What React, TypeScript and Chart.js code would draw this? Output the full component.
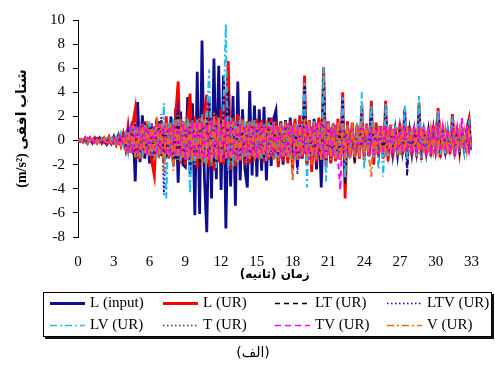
import React, { useEffect, useRef } from 'react';
import { Chart, registerables } from 'chart.js';

Chart.register(...registerables);

// time step of the sampled record (seconds)
const timeStep = 0.2;
const xTickStep = 3;
const yTickStep = 2;

const seriesNames = ['L (input)', 'L (UR)', 'LT (UR)', 'LTV (UR)', 'LV (UR)', 'T (UR)', 'TV (UR)', 'V (UR)'];

const lInput = [
  0, 0.1, -0.1, 0.2, -0.2, 0.1, -0.2, 0.2, -0.1, 0.2,
  -0.2, 0.1, -0.3, 0.2, -0.2, 0.3, -0.3, 0.4, -0.3, 0.5,
  -0.6, 0.9, -1.0, 1.6, -3.4, 3.2, -1.8, 2.1, -1.5, 1.4,
  -1.9, 1.2, -1.6, 1.8, -1.2, 1.5, -1.8, 1.3, -1.4, 2.0,
  -2.1, 2.7, -3.5, 2.4, -2.0, -2.2, 3.6, -2.8, 3.1, -6.2,
  5.7, -6.1, 8.3, -3.0, -7.6, 3.5, -4.8, 6.8, -3.2, 6.2,
  -4.1, 5.4, -7.3, 3.3, -3.8, 3.7, -5.4, 4.9, -3.3, 2.6,
  -2.4, -3.9, 4.1, -2.9, 2.9, -3.0, 2.6, -2.5, 2.8, -3.3,
  1.9, -2.1, 1.8, 2.5, -1.9, 1.6, -2.0, 1.7, -1.6, 1.9,
  -1.8, 1.5, -2.2, 1.7, -1.5, 2.0, -1.9, 1.6, -2.0, 1.8,
  -2.4, 1.7, -3.9, 2.2, -1.6, 1.5, -1.8, 1.3, -1.5, 1.2,
  -1.6, 1.4, -1.2, 1.3, -1.4, 1.1, -1.3, 1.2, -1.1, 1.4,
  -1.2, 1.0, -1.3, 1.1, -1.0, 1.2, -1.1, 0.9, -1.2, 1.0,
  -0.9, 1.1, -1.0, 0.8, -1.1, 0.9, -0.8, 1.0, -0.9, 0.8,
  -1.0, 0.7, -0.9, 0.9, -0.8, 0.7, -0.9, 0.8, -0.7, 0.9,
  -0.8, 0.7, -0.8, 0.6, -0.7, 0.8, -0.6, 0.7, -0.8, 0.6,
  -0.7, 0.6, -0.5, 0.7, -0.6, 0.3,
];

const lUR = [
  0, 0.1, -0.1, 0.1, -0.2, 0.2, -0.1, 0.2, -0.2, 0.1,
  -0.2, 0.2, -0.2, 0.3, -0.2, 0.2, -0.3, 0.3, -0.4, 0.5,
  -0.6, 1.1, -0.9, 1.4, 2.6, -1.5, 1.2, -1.4, 1.6, -1.2,
  1.3, -1.8, -2.9, 1.5, -1.3, 1.7, -1.6, 2.0, -1.5, 1.4,
  -1.8, 2.2, 4.9, -1.9, 1.6, -2.0, 1.8, 3.9, -1.7, 2.0,
  -2.3, 1.9, -1.6, 2.4, 3.8, -2.2, 1.7, -2.5, 2.1, -1.8,
  2.6, -2.0, 2.3, 6.6, -2.4, 1.9, -2.1, 2.2, -1.7, 1.8,
  -2.0, 1.6, -1.9, 1.5, -1.6, 1.8, -1.4, 1.7, -1.8, 1.4,
  -1.6, 1.9, -1.5, 1.6, -2.2, 1.5, -1.7, 1.4, -1.9, 1.6,
  -2.4, 1.8, -1.6, 2.1, -1.4, 5.4, -2.0, 1.7, -2.6, 1.5,
  -1.8, 1.9, -1.6, 6.1, -2.2, 1.6, -1.9, 1.4, -1.7, 1.8,
  -1.5, 4.0, -4.8, 1.6, -1.4, 1.5, -1.8, 1.3, -1.5, 2.9,
  -1.6, 1.4, -1.3, 3.3, -2.0, 1.5, -1.4, 1.2, -1.5, 3.3,
  -1.7, 1.3, -1.4, 1.1, -1.3, 1.4, -1.2, 2.6, -1.5, 1.2,
  -1.3, 1.0, -1.4, 3.1, -1.6, 1.1, -1.2, 1.0, -1.3, 1.2,
  -1.1, 2.7, -1.4, 1.0, -1.2, 0.9, -1.1, 2.2, -1.3, 1.0,
  -0.9, 1.1, -1.0, 0.9, 1.8, -0.8,
];

const ltUR = [
  0, -0.1, 0.1, -0.1, 0.2, -0.1, 0.1, -0.2, 0.2, -0.1,
  0.2, -0.2, 0.1, -0.2, 0.3, -0.2, 0.2, -0.3, 0.3, -0.3,
  0.5, -0.8, 0.9, -1.1, 1.5, -1.2, 1.0, -1.3, 1.4, -0.9,
  1.2, -1.4, 1.1, -1.0, 1.6, -1.3, 1.2, -1.5, 1.3, -1.1,
  1.4, -1.6, 2.6, -1.3, 1.5, -1.7, 1.2, -1.4, 1.8, -1.5,
  1.6, -1.8, 1.4, -1.2, 2.0, -1.6, 1.5, -1.9, 1.3, -1.4,
  1.7, -1.5, 1.4, 4.2, -1.8, 1.3, -1.6, 1.5, -1.2, 1.4,
  -1.5, 1.2, -1.3, 1.6, -1.4, 1.1, -1.2, 1.4, -1.5, 1.2,
  -1.3, 1.5, -1.1, 1.3, -1.6, 1.2, -1.4, 1.1, -1.3, 1.5,
  -1.2, 1.3, -1.5, 1.2, -1.1, 4.6, -1.6, 1.3, -1.4, 1.2,
  -1.5, 1.4, -1.3, 5.2, -1.8, 1.2, -1.4, 1.3, -1.2, 1.1,
  -1.3, 3.4, -3.6, 1.2, -1.1, 1.3, -1.9, 1.1, -1.2, 1.4,
  -1.1, 1.2, -1.3, 2.9, -1.2, 1.1, -1.0, 1.2, -1.3, 2.8,
  -1.2, 1.0, -1.1, 1.2, -0.9, 1.1, -1.0, 2.4, -3.0, 1.0,
  -1.1, 0.9, -1.0, 2.7, -1.2, 1.0, -0.9, 1.1, -1.0, 0.9,
  -1.1, 2.3, -1.0, 0.9, -0.8, 1.0, -0.9, 1.9, -1.1, 0.8,
  -0.9, 1.0, -0.8, 0.9, 1.9, -0.8,
];

const ltvUR = [
  0, 0.1, -0.1, 0.2, -0.1, 0.1, -0.2, 0.1, -0.1, 0.2,
  -0.2, 0.2, -0.1, 0.2, -0.3, 0.2, -0.2, 0.3, -0.3, 0.4,
  -0.6, 0.8, -1.0, 1.2, -1.3, 1.6, -1.1, 1.3, -1.2, 1.0,
  -1.3, 1.5, -1.2, 1.1, -1.4, 2.2, -4.5, 1.3, -1.2, 1.4,
  -1.5, 1.6, 2.8, -1.4, 1.3, -1.6, 1.7, -1.3, 1.5, -1.9,
  1.7, -1.5, 1.3, -1.8, 1.6, -1.4, 1.9, -1.6, 1.4, -1.3,
  1.5, -1.7, 1.6, 3.9, -1.5, 1.4, -1.3, 1.6, -1.4, 1.2,
  -1.4, 1.5, -1.2, 1.3, -1.5, 1.2, -1.1, 1.4, -1.3, 1.1,
  -1.2, 1.4, -1.3, 1.2, -1.5, 1.3, -1.1, 1.2, -1.4, 1.3,
  -1.3, 1.1, -2.8, 1.3, -1.2, 4.3, -1.5, 1.2, -1.3, 1.4,
  -1.2, 1.3, -1.5, 5.0, -1.6, 1.2, -1.3, 1.1, -1.4, 1.2,
  -1.2, 3.2, -3.3, 1.3, -1.2, 1.1, -1.4, 1.2, -1.1, 2.6,
  -1.2, 1.1, -1.0, 2.8, -1.3, 1.0, -1.1, 1.2, -1.0, 2.7,
  -1.1, 1.0, -1.2, 0.9, -1.0, 1.1, -0.9, 2.5, -2.7, 1.0,
  -1.0, 1.1, -0.9, 2.9, -1.1, 0.9, -1.0, 1.0, -0.9, 1.1,
  -1.0, 2.2, -1.1, 0.9, -1.0, 0.8, -0.9, 1.8, -1.0, 0.9,
  -0.8, 0.9, -1.0, 0.8, 1.4, -0.7,
];

const lvUR = [
  0, -0.1, 0.1, -0.2, 0.1, -0.1, 0.2, -0.2, 0.1, -0.2,
  0.2, -0.1, 0.2, -0.3, 0.2, -0.2, 0.3, -0.3, 0.6, -0.4,
  0.7, -0.9, 1.2, -1.0, 1.5, -1.3, 1.1, -1.4, 1.3, -1.2,
  1.6, -1.3, 1.2, -1.5, 1.4, -1.1, 3.1, -4.8, 1.5, -1.4,
  1.8, -1.6, 2.1, -1.8, 1.6, -1.5, 1.9, -4.4, 1.7, -2.0,
  1.8, -1.6, 2.2, -1.9, 1.7, 5.9, -2.1, 1.8, -2.3, 2.0,
  -1.8, 2.4, 9.7, -2.5, 1.9, -2.2, 1.7, -1.9, 2.0, -1.6,
  1.5, -1.8, 1.6, -1.4, 1.7, -1.5, 1.3, -1.6, 1.4, -1.7,
  1.5, -1.3, 1.6, -1.5, 1.2, -1.4, 1.5, -1.3, 1.4, -1.6,
  1.3, -1.5, 1.7, -1.4, 1.6, 4.8, -3.9, 1.5, -1.4, 1.6,
  -1.3, 1.4, -1.6, 6.1, -3.4, 1.5, -1.3, 1.4, -1.6, 1.2,
  -1.4, 3.6, -3.1, 1.3, -1.5, 1.2, -1.4, 1.5, -1.2, 4.0,
  -2.4, 1.3, -1.2, 3.0, -1.5, 1.2, -2.4, 1.1, -3.0, 3.1,
  -1.3, 1.2, -1.1, 1.3, -1.2, 1.0, -1.3, 2.9, -1.6, 1.1,
  -1.2, 1.0, -1.3, 3.7, -1.8, 1.1, -1.0, 1.2, -1.1, 1.0,
  -1.2, 2.5, -1.3, 1.0, -1.1, 0.9, -1.0, 2.0, -1.2, 0.9,
  -1.0, 1.1, -0.9, 1.0, 1.6, -0.8,
];

const tUR = [
  0, 0.1, -0.1, 0.1, -0.1, 0.2, -0.1, 0.1, -0.2, 0.1,
  -0.1, 0.2, -0.2, 0.1, -0.2, 0.2, -0.2, 0.3, -0.2, 0.3,
  -0.4, 0.6, -0.8, 0.9, -1.1, 1.2, -0.9, 1.0, -1.1, 0.8,
  -1.0, 1.2, -0.9, 1.1, -1.3, 1.0, -1.2, 0.9, -1.1, 1.3,
  -1.2, 1.0, -1.4, 1.5, -1.1, 1.3, -1.2, 1.4, -1.5, 1.2,
  -1.3, 1.6, -1.2, 1.4, -1.5, 1.3, -1.1, 1.5, -1.4, 1.2,
  -1.3, 1.4, -1.2, 1.6, -1.4, 1.1, -1.3, 1.2, -1.0, 1.3,
  -1.2, 1.0, -1.1, 1.2, -1.3, 1.0, -0.9, 1.1, -1.2, 1.0,
  -1.1, 1.2, -1.0, 0.9, -1.1, 1.2, -1.0, 0.9, -1.2, 1.1,
  -1.0, 1.2, -1.1, 1.0, -0.9, 1.3, -1.2, 1.0, -1.1, 1.2,
  -1.0, 1.1, -1.3, 1.4, -1.2, 1.0, -1.1, 0.9, -1.0, 1.2,
  -1.1, 1.3, -1.4, 1.0, -0.9, 1.1, -1.2, 0.9, -1.0, 1.1,
  -0.9, 1.0, -1.1, 1.2, -1.0, 0.9, -0.8, 1.0, -1.1, 1.2,
  -0.9, 0.8, -1.0, 0.9, -0.8, 1.0, -0.9, 1.1, -1.0, 0.8,
  -0.9, 0.8, -1.0, 1.1, -0.9, 0.8, -0.7, 0.9, -0.8, 0.7,
  -0.9, 1.0, -0.8, 0.7, -0.8, 0.9, -0.7, 0.8, -0.9, 0.7,
  -0.8, 0.7, -0.6, 0.8, 0.9, -0.6,
];

const tvUR = [
  0, -0.1, 0.1, -0.1, 0.2, -0.1, 0.1, -0.2, 0.1, -0.1,
  0.2, -0.1, 0.2, -0.2, 0.1, -0.2, 0.3, -0.2, 0.3, -0.4,
  0.5, -0.7, 0.9, -1.0, 1.2, -1.1, 1.3, -0.9, 1.1, -1.2,
  1.0, -1.3, 1.2, -1.1, 1.4, -1.0, 1.3, -1.2, 1.1, -1.4,
  1.3, -1.2, 1.5, -1.3, 1.4, -1.6, 1.2, -1.4, 1.6, -1.3,
  1.5, -1.4, 1.7, -1.5, 1.3, -1.6, 1.8, -1.4, 1.6, -1.5,
  1.4, -1.7, 1.9, -1.5, 1.6, -1.3, 1.5, -1.6, 1.4, -1.2,
  1.3, -1.5, 1.4, -1.3, 1.2, -1.4, 1.5, -1.2, 1.3, -1.4,
  1.2, -1.3, 1.4, -1.2, 1.3, -1.5, 1.1, -1.3, 1.4, -1.2,
  1.3, -1.4, 1.2, -1.5, 1.3, -1.1, 1.4, -1.6, 1.2, -1.3,
  1.5, -1.2, 1.3, -1.4, 1.6, -1.3, 1.2, -1.4, 1.3, -1.5,
  -4.1, 1.4, -1.3, 1.2, -1.4, 1.3, -1.2, 1.1, -1.3, 1.2,
  -1.1, 1.3, -1.2, 1.0, -1.3, 1.1, -1.0, 1.2, -1.1, 1.3,
  -1.0, 1.1, -1.2, 1.0, -0.9, 1.2, -1.0, 1.1, -0.9, 1.0,
  -1.1, 0.9, -1.0, 1.2, -0.9, 1.0, -0.8, 1.1, -1.0, 0.9,
  -0.8, 1.0, -0.9, 1.1, -0.8, 0.9, -1.0, 0.8, -0.9, 1.0,
  -0.8, 1.9, -0.7, 0.9, -0.8, 0.6,
];

const vUR = [
  0, 0.1, -0.1, 0.2, -0.2, 0.1, -0.1, 0.2, -0.2, 0.2,
  -0.1, 0.2, -0.3, 0.2, -0.2, 0.3, -0.3, 0.2, -0.4, 0.4,
  -0.6, 0.8, -1.0, 1.3, -1.4, 1.1, -1.5, 1.4, -1.2, 1.6,
  -1.4, 1.3, -1.6, 2.0, -1.5, 1.4, -2.7, 1.6, -1.3, 1.5,
  -2.5, 1.7, -1.6, 1.8, -1.4, 1.9, -1.7, 1.5, -1.8, 1.6,
  -1.5, 1.8, -2.2, 1.7, -1.9, 1.6, -1.7, 2.3, -1.6, 1.8,
  -1.9, 1.7, -1.5, 1.9, -1.8, 1.6, -1.7, 1.5, -1.6, 1.8,
  -1.4, 1.6, -1.5, 1.7, -1.8, 1.4, -1.6, 1.5, -1.3, 1.7,
  -1.5, 1.4, -1.6, 1.3, -1.7, 1.5, -1.4, 1.6, -1.5, 1.3,
  -3.4, 1.5, -1.6, 1.4, -1.3, 1.7, -1.5, 1.6, -2.0, 1.4,
  -1.6, 1.5, -1.7, 1.8, -1.5, 1.4, -1.6, 1.3, -1.5, 1.6,
  -1.7, 1.4, -1.5, 1.3, -1.4, 1.5, -1.3, 1.4, -1.5, 1.6,
  -1.2, 1.3, -1.4, -3.0, 1.5, -1.2, 1.3, -1.1, 1.2, -1.4,
  1.2, -1.1, 1.3, -1.0, 1.1, -1.2, 1.0, -1.1, 1.2, -1.0,
  1.1, -0.9, 1.0, -1.1, 1.2, -1.0, 0.9, -1.1, 1.0, -0.8,
  1.0, -0.9, 1.1, -0.8, 0.9, -1.2, 0.8, -0.9, 1.0, -0.8,
  0.9, -0.7, 0.8, -0.9, 0.7, -0.5,
];

const seriesValues = [lInput, lUR, ltUR, ltvUR, lvUR, tUR, tvUR, vUR];
const times = lInput.map((_, i) => Math.round(i * timeStep * 10) / 10);

const seriesStyles = [
  { color: '#0e0e8c', width: 2.8, dash: [] as number[] },
  { color: '#ff0000', width: 2.8, dash: [] as number[] },
  { color: '#000000', width: 1.8, dash: [5, 4] },
  { color: '#0000ff', width: 1.8, dash: [1.5, 2.5] },
  { color: '#22bdf0', width: 2, dash: [7, 3, 2, 3] },
  { color: '#6e1e80', width: 1.8, dash: [1.5, 2.5] },
  { color: '#ff00ff', width: 2, dash: [6, 4] },
  { color: '#f0661a', width: 2, dash: [7, 3, 2, 3] },
];

const SERIF = "'Liberation Serif', 'DejaVu Sans', serif";

const legendPlugin = {
  id: 'boxLegend',
  afterDraw(chart: any) {
    const ctx = chart.ctx as CanvasRenderingContext2D;
    ctx.save();
    const bx = 43, by = 292, bw = 448, bh = 44;
    ctx.fillStyle = '#111';
    ctx.fillRect(bx + 2, by + 2, bw + 1, bh + 1);
    ctx.fillStyle = '#fff';
    ctx.fillRect(bx, by, bw, bh);
    ctx.strokeStyle = '#000';
    ctx.lineWidth = 1;
    ctx.strokeRect(bx + 0.5, by + 0.5, bw, bh);
    const cols = [50, 163, 275, 387];
    const rows = [303, 325];
    chart.data.datasets.forEach((ds: any, i: number) => {
      const x = cols[i % 4];
      const y = rows[Math.floor(i / 4)];
      ctx.beginPath();
      ctx.setLineDash(ds.borderDash || []);
      ctx.strokeStyle = ds.borderColor;
      ctx.lineWidth = Math.min(ds.borderWidth, 2.8) * (ds.borderDash && ds.borderDash.length ? 0.8 : 1);
      ctx.moveTo(x, y + 0.5);
      ctx.lineTo(x + 35, y + 0.5);
      ctx.stroke();
      ctx.setLineDash([]);
      ctx.fillStyle = '#000';
      ctx.font = `15px ${SERIF}`;
      ctx.textBaseline = 'middle';
      ctx.textAlign = 'left';
      ctx.fillText(ds.label, x + 40, y);
    });
    ctx.font = `14px 'DejaVu Sans', sans-serif`;
    ctx.textAlign = 'center';
    ctx.textBaseline = 'middle';
    ctx.fillStyle = '#000';
    ctx.fillText('(الف)', 253, 353);
    ctx.restore();
  },
};

export default function App() {
  const ref = useRef<HTMLCanvasElement | null>(null);
  useEffect(() => {
    if (!ref.current) return;
    const n = seriesValues.length;
    const chart = new Chart(ref.current, {
      type: 'line',
      data: {
        datasets: seriesValues.map((vals, k) => ({
          label: seriesNames[k],
          data: vals.map((v, i) => ({ x: times[i], y: v })),
          borderColor: seriesStyles[k].color,
          backgroundColor: seriesStyles[k].color,
          borderWidth: seriesStyles[k].width,
          borderDash: seriesStyles[k].dash,
          pointRadius: 0,
          tension: 0,
          fill: false,
          order: n - k,
        })),
      },
      options: {
        animation: false,
        responsive: false,
        devicePixelRatio: 1,
        layout: { padding: { left: 0, top: 20, right: 16, bottom: 83 } },
        plugins: {
          legend: { display: false },
          tooltip: { enabled: false },
          title: { display: false },
        },
        scales: {
          x: {
            type: 'linear',
            min: 0,
            max: 33,
            afterFit: (s: any) => { s.height = 48; },
            grid: { display: false, drawTicks: false },
            border: { display: false },
            ticks: {
              stepSize: xTickStep,
              padding: 16,
              color: '#000',
              font: { family: SERIF, size: 15 },
              maxRotation: 0,
            },
            title: {
              display: true,
              text: 'زمان (ثانیه)\u200F',
              color: '#000',
              font: { family: "'DejaVu Sans', sans-serif", size: 12, weight: 'bold' },
              padding: { top: 0, bottom: 3 },
            },
          },
          y: {
            min: -8,
            max: 10,
            afterFit: (s: any) => { s.width = 78; },
            grid: { display: true, drawOnChartArea: false, drawTicks: true, tickLength: 5, color: '#000' },
            border: { display: true, color: '#000', width: 1 },
            ticks: {
              stepSize: yTickStep,
              padding: 8,
              color: '#000',
              font: { family: SERIF, size: 15 },
            },
            title: {
              display: true,
              text: '(m/s²) شتاب افقی',
              color: '#000',
              font: { family: SERIF, size: 14, weight: 'bold' },
              padding: { top: 14, bottom: 0 },
            },
          },
        },
      },
      plugins: [legendPlugin],
    });
    return () => chart.destroy();
  }, []);
  return (
    <div style={{ position: 'fixed', left: 0, top: 0, width: 495, height: 368, background: '#fff' }}>
      <canvas ref={ref} width={495} height={368} style={{ width: 495, height: 368, display: 'block' }} />
    </div>
  );
}
